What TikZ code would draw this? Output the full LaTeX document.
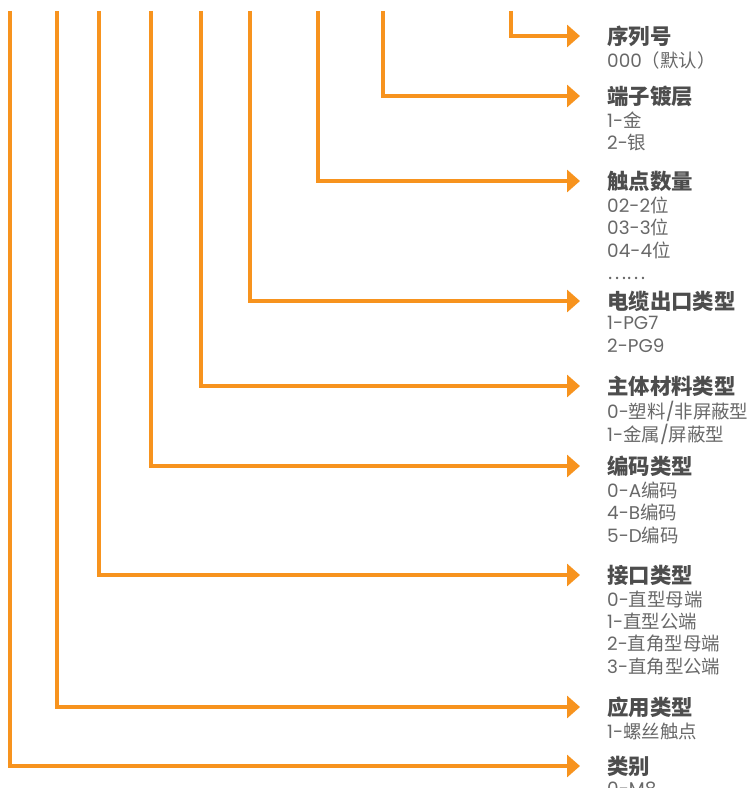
\documentclass[tikz,border=0pt]{standalone}
\usepackage{fontspec}
\setmainfont{Poppins}
\newfontfamily\zhfont{Noto Sans CJK SC}
\newcommand{\zh}[1]{{\zhfont #1}}
\usepackage{xcolor}
\usetikzlibrary{arrows.meta, positioning}

\definecolor{codeorange}{HTML}{F7931E}
\definecolor{titlegray}{HTML}{4D4D4D}
\definecolor{subgray}{HTML}{686868}

\begin{document}
\begin{tikzpicture}[x=1bp, y=-1bp,
	link/.style = {draw=codeorange, line width=3.5bp, -{Triangle[length=13bp, width=22bp]}, shorten >=27bp},
	field/.style = {anchor=west, inner sep=0pt, text=titlegray, font=\zhfont\bfseries\fontsize{21.5}{24}\selectfont},
	choice/.style = {inner sep=0pt, align=left, text=subgray, font=\fontsize{18.5}{22.5}\selectfont}]
	\useasboundingbox (0,0) rectangle (755,788);
	
	% start points of the code digits
	\coordinate (p1) at (511,11);
	\coordinate (p2) at (383,11);
	\coordinate (p3) at (318,11);
	\coordinate (p4) at (250,11);
	\coordinate (p5) at (201,11);
	\coordinate (p6) at (151,11);
	\coordinate (p7) at (99,11);
	\coordinate (p8) at (57,11);
	\coordinate (p9) at (10,11);
	
	\node [field] (serial) at (607,36) {序列号};
	\node [choice, below right=5bp and 0bp of serial.south west] (serialv) {000\zh{（默认）}};
	
	\node [field] (plating) at (607,96) {端子镀层};
	\node [choice, below right=5bp and 0bp of plating.south west] (platingv) {1-\zh{金}\\2-\zh{银}};
	
	\node [field] (pins) at (607,181) {触点数量};
	\node [choice, below right=5bp and 0bp of pins.south west] (pinsv) {02-2\zh{位}\\03-3\zh{位}\\04-4\zh{位}\\\zh{……}};
	
	\node [field] (outlet) at (607,301) {电缆出口类型};
	\node [choice, below right=5bp and 0bp of outlet.south west] (outletv) {1-PG7\\2-PG9};
	
	\node [field] (body) at (607,386) {主体材料类型};
	\node [choice, below right=5bp and 0bp of body.south west] (bodyv) {0-\zh{塑料}/\zh{非屏蔽型}\\1-\zh{金属}/\zh{屏蔽型}};
	
	\node [field] (coding) at (607,466) {编码类型};
	\node [choice, below right=5bp and 0bp of coding.south west] (codingv) {0-A\zh{编码}\\4-B\zh{编码}\\5-D\zh{编码}};
	
	\node [field] (port) at (607,575) {接口类型};
	\node [choice, below right=5bp and 0bp of port.south west] (portv) {0-\zh{直型母端}\\1-\zh{直型公端}\\2-\zh{直角型母端}\\3-\zh{直角型公端}};
	
	\node [field] (usage) at (607,707) {应用类型};
	\node [choice, below right=5bp and 0bp of usage.south west] (usagev) {1-\zh{螺丝触点}};
	
	\node [field] (kind) at (607,766) {类别};
	\node [choice, below right=5bp and 0bp of kind.south west] (kindv) {0-M8};
	
	\draw [link] (p1) |- (serial.west);
	\draw [link] (p2) |- (plating.west);
	\draw [link] (p3) |- (pins.west);
	\draw [link] (p4) |- (outlet.west);
	\draw [link] (p5) |- (body.west);
	\draw [link] (p6) |- (coding.west);
	\draw [link] (p7) |- (port.west);
	\draw [link] (p8) |- (usage.west);
	\draw [link] (p9) |- (kind.west);
\end{tikzpicture}
\end{document}
